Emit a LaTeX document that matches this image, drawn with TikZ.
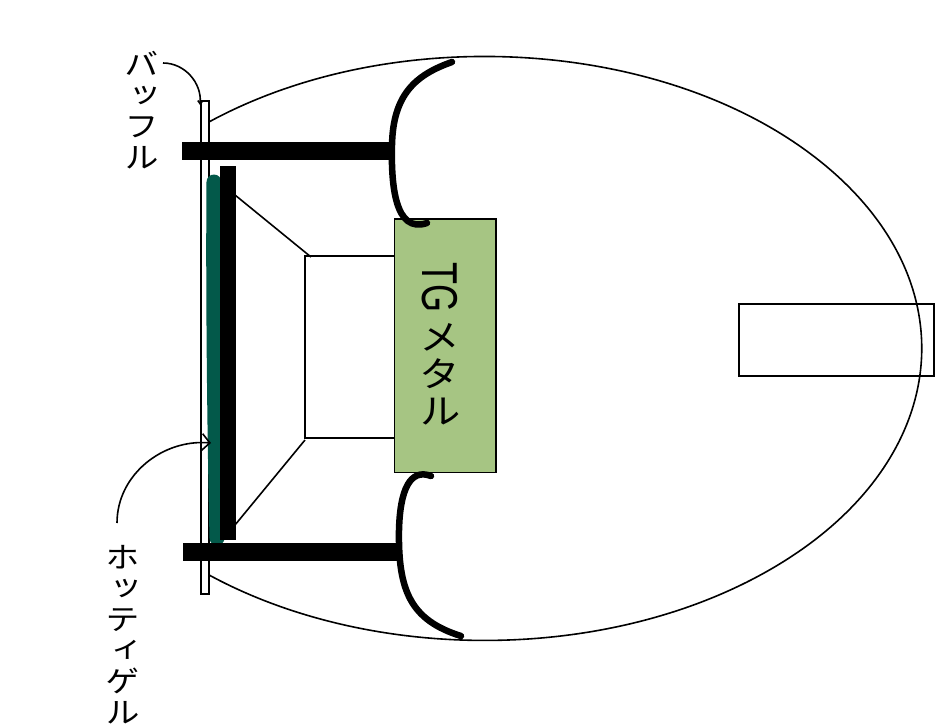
\documentclass[tikz,border=0pt]{standalone}
\usepackage{fontspec}
\newfontfamily\cjkvert[RawFeature=+vert]{Noto Sans CJK JP}
\setsansfont{Liberation Sans}
\usetikzlibrary{arrows.meta}
\definecolor{gelgreen}{HTML}{03594A}
\definecolor{metalgreen}{HTML}{A6C583}
\newcommand{\drawpart}{\node[draw,rectangle,inner sep=0]}
\newcommand{\drawlabel}{\node[vlabel]}
\tikzset{
  vlabel/.style={align=center,inner sep=0,xscale=1.15,font=\cjkvert\fontsize{30}{31}\selectfont},
  metallabel/.style={align=center,inner sep=0,xscale=1.15,font=\cjkvert\fontsize{36}{37}\selectfont},
  thinline/.style={line width=1.6pt},
  surround/.style={line width=6.5pt,line cap=round},
  bar/.style={fill=black,minimum height=16pt}
}
\begin{document}
\begin{tikzpicture}[x=1pt,y=-1pt,thinline]
\useasboundingbox (0,0) rectangle (935,728);
%housing
\coordinate (shellTop) at (208,122.5);
\draw (shellTop) arc[start angle=129.3,end angle=-129.3,x radius=437pt,y radius=292pt];
\drawpart[minimum width=195pt,minimum height=72pt] (pipe) at (836.5,340) {};

%baffle and magnet
\drawpart[fill=white,minimum width=8pt,minimum height=493pt] (baffle) at (205,347.5) {};
\draw[line width=15pt,line cap=round,gelgreen] (214,182) .. controls (213,300) and (215,450) .. (217,538);
\drawpart[fill=black,minimum width=14pt,minimum height=372pt] (plate) at (228,353) {};
\drawpart[bar,minimum width=209pt] (barTop) at (287.5,151) {};
\drawpart[bar,minimum width=214pt] (barBot) at (291,552) {};

%cone
\drawpart[minimum width=90pt,minimum height=182pt] (cone) at (350,347) {};
\coordinate (coneIn1) at (235,195);
\coordinate (coneOut1) at (311,257);
\coordinate (coneIn2) at (235,525);
\coordinate (coneOut2) at (305,440);
\draw (coneIn1) to (coneOut1);
\draw (coneIn2) to (coneOut2);

\drawpart[fill=metalgreen,minimum width=101.5pt,minimum height=253.5pt] (metal) at (445.25,345.75) {};
\node[rotate=-90,inner sep=0,font=\sffamily\fontsize{36}{36}\selectfont] (lblTG) at (440,287) {\scalebox{1}[1.4]{TG}};
\node[metallabel] (lblMetal) at (440,374) {メ\\タ\\ル};

%surround
\draw[surround] (452,62) .. controls (415,75) and (393,95) .. (392,145) .. controls (391,185) and (395,234) .. (427,223);
\draw[surround] (431,476) .. controls (410,468) and (400,490) .. (399,530) .. controls (398,590) and (410,620) .. (461,636);

%labels
\drawlabel (lblBaffle) at (142,110) {バ\\ッ\\フ\\ル};
\drawlabel (lblGel) at (123,635) {ホ\\ッ\\テ\\ィ\\ゲ\\ル};
\coordinate (baffleFrom) at (163,63);
\coordinate (baffleTo) at (200,105);
\coordinate (gelFrom) at (117,523);
\coordinate (gelTo) at (211,443);
\draw[-{Straight Barb[length=3pt,width=5pt]}] (baffleFrom) to [out=0,in=85] (baffleTo);
\draw[-{Straight Barb[length=8pt,width=17pt]}] (gelFrom) to [out=90,in=175] (gelTo);
\end{tikzpicture}
\end{document}
